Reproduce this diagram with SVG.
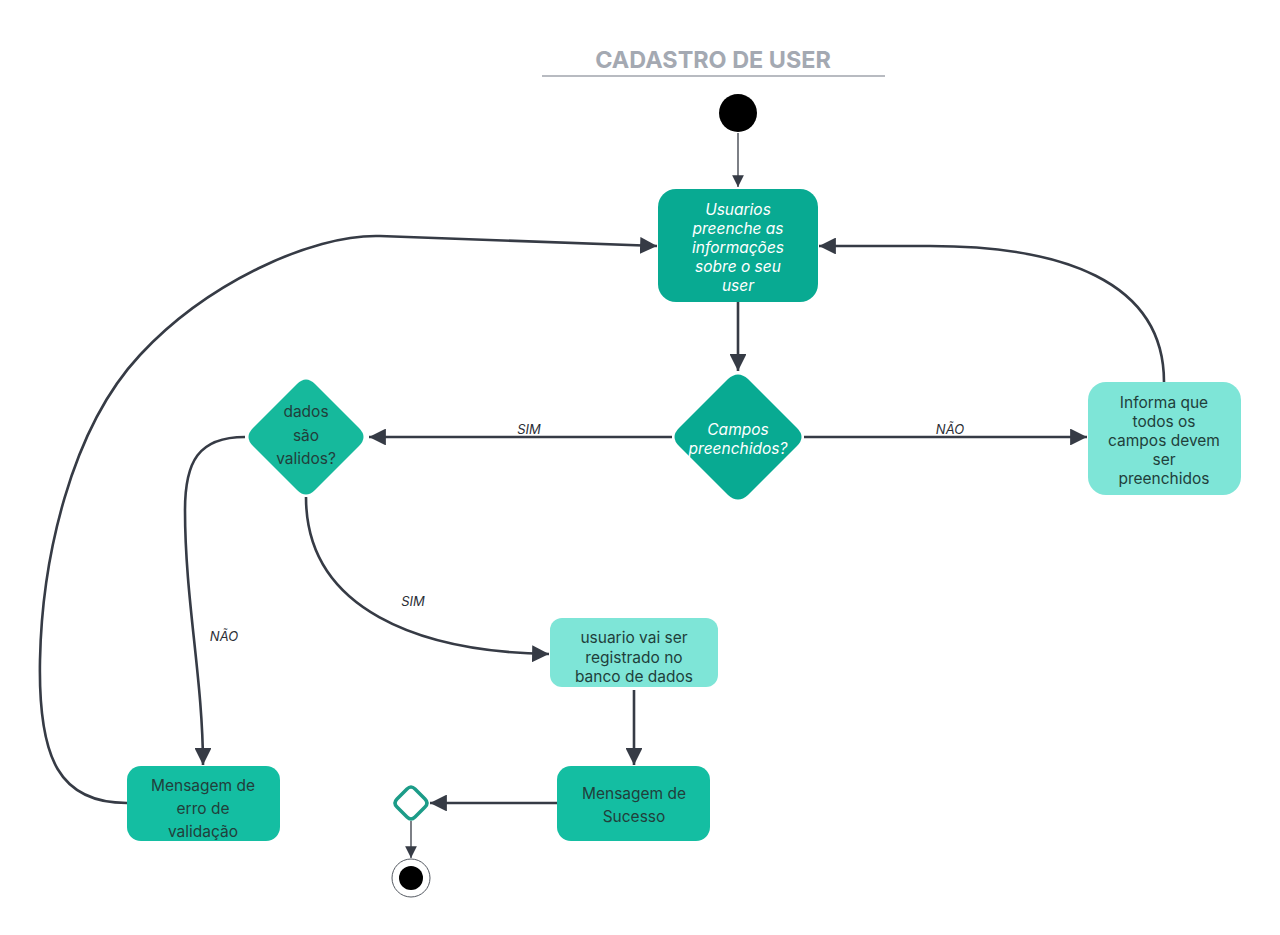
<svg xmlns="http://www.w3.org/2000/svg" width="1280" height="935" viewBox="0 0 1280 935">
<defs>
<style>
.t{font-family:Inter,"Liberation Sans",sans-serif;font-size:15.5px;text-anchor:middle}
.w{fill:#ffffff;font-style:italic}
.d{fill:#213f3b}
.lbl{font-family:Inter,"Liberation Sans",sans-serif;font-size:13px;font-style:italic;fill:#2b2f36;text-anchor:middle}
.c{fill:none;stroke:#363b45;stroke-width:2.6}
.ct{fill:none;stroke:#363b45;stroke-width:1.3}
</style>
<marker id="ah" viewBox="0 0 10 10" refX="10" refY="5" markerWidth="6.5" markerHeight="6.5" markerUnits="strokeWidth" orient="auto">
<path d="M0,0 L10,5 L0,10 z" fill="#363b45"/>
</marker>
<marker id="as" viewBox="0 0 10 10" refX="10" refY="5" markerWidth="9" markerHeight="9" markerUnits="strokeWidth" orient="auto">
<path d="M0,0 L10,5 L0,10 z" fill="#363b45"/>
</marker>
</defs>
<rect width="1280" height="935" fill="#ffffff"/>

<g id="title">
<text x="713" y="68" font-family="Inter,'Liberation Sans',sans-serif" font-size="23.4" font-weight="700" fill="#a4a9b2" text-anchor="middle">CADASTRO DE USER</text>
<line x1="542" y1="76" x2="885" y2="76" stroke="#a0a5ad" stroke-width="1.5"/>
</g>

<g id="connectors">
<path class="ct" d="M738,133 L738,187" marker-end="url(#as)"/>
<path class="c" d="M738,302 L738,371" marker-end="url(#ah)"/>
<path class="c" d="M672,437 L369,437" marker-end="url(#ah)"/>
<path class="c" d="M804,437 L1087,437" marker-end="url(#ah)"/>
<path class="c" d="M1164,382 C1164,280 1060,246 930,246 L819,246" marker-end="url(#ah)"/>
<path class="c" d="M127,803 C60,803 38,760 40,660 C42,560 70,430 140,355 C205,285 310,234 380,236 L657,246" marker-end="url(#ah)"/>
<path class="c" d="M245,437 C198,437 185,462 185,510 C185,600 203,680 203,765" marker-end="url(#ah)"/>
<path class="c" d="M306,497 C306,610 420,652 549,654" marker-end="url(#ah)"/>
<path class="c" d="M634,690 L634,765" marker-end="url(#ah)"/>
<path class="c" d="M557,803 L430,803" marker-end="url(#ah)"/>
<path class="ct" d="M411,821 L411,858" marker-end="url(#as)"/>
<text class="lbl" x="529" y="434">SIM</text>
<text class="lbl" x="950" y="434">NÃO</text>
<text class="lbl" x="224" y="641">NÃO</text>
<text class="lbl" x="413" y="606">SIM</text>
</g>

<g id="start">
<circle cx="738" cy="113" r="19" fill="#000000"/>
</g>

<g id="usuarios">
<rect x="658" y="189" width="160" height="113" rx="18" fill="#08aa92"/>
<text class="t w" x="738" y="215">Usuarios</text>
<text class="t w" x="738" y="234">preenche as</text>
<text class="t w" x="738" y="253">informações</text>
<text class="t w" x="738" y="272">sobre o seu</text>
<text class="t w" x="738" y="291">user</text>
</g>

<g id="campos">
<path d="M728,379 Q738,370 748,379 L797,428 Q806,437 797,446 L748,495 Q738,504 728,495 L679,446 Q670,437 679,428 Z" fill="#08aa92"/>
<text class="t w" x="738" y="435">Campos</text>
<text class="t w" x="738" y="454">preenchidos?</text>
</g>

<g id="dados">
<path d="M297,384 Q306,375 315,384 L359,428 Q368,437 359,446 L315,490 Q306,499 297,490 L253,446 Q244,437 253,428 Z" fill="#16b99c"/>
<text class="t d" x="306" y="417">dados</text>
<text class="t d" x="306" y="441">são</text>
<text class="t d" x="306" y="464">validos?</text>
</g>

<g id="informa">
<rect x="1088" y="382" width="153" height="113" rx="18" fill="#7ee5d7"/>
<text class="t d" x="1164" y="408">Informa que</text>
<text class="t d" x="1164" y="427">todos os</text>
<text class="t d" x="1164" y="446">campos devem</text>
<text class="t d" x="1164" y="465">ser</text>
<text class="t d" x="1164" y="484">preenchidos</text>
</g>

<g id="erro">
<rect x="127" y="766" width="153" height="75" rx="14" fill="#14bea2"/>
<text class="t d" x="203" y="791">Mensagem de</text>
<text class="t d" x="203" y="814">erro de</text>
<text class="t d" x="203" y="837">validação</text>
</g>

<g id="registro">
<rect x="550" y="618" width="168" height="69" rx="12" fill="#7ee5d7"/>
<text class="t d" x="634" y="643">usuario vai ser</text>
<text class="t d" x="634" y="663">registrado no</text>
<text class="t d" x="634" y="682">banco de dados</text>
</g>

<g id="sucesso">
<rect x="557" y="766" width="153" height="75" rx="14" fill="#14bea2"/>
<text class="t d" x="634" y="799">Mensagem de</text>
<text class="t d" x="634" y="822">Sucesso</text>
</g>

<g id="merge">
<path d="M407,789 Q411,785 415,789 L425,799 Q429,803 425,807 L415,817 Q411,821 407,817 L397,807 Q393,803 397,799 Z" fill="#ffffff" stroke="#1c9c88" stroke-width="3.5" stroke-linejoin="round"/>
</g>

<g id="end">
<circle cx="411" cy="878" r="19" fill="#ffffff" stroke="#555a62" stroke-width="1"/>
<circle cx="411" cy="878" r="12" fill="#000000"/>
</g>
</svg>
